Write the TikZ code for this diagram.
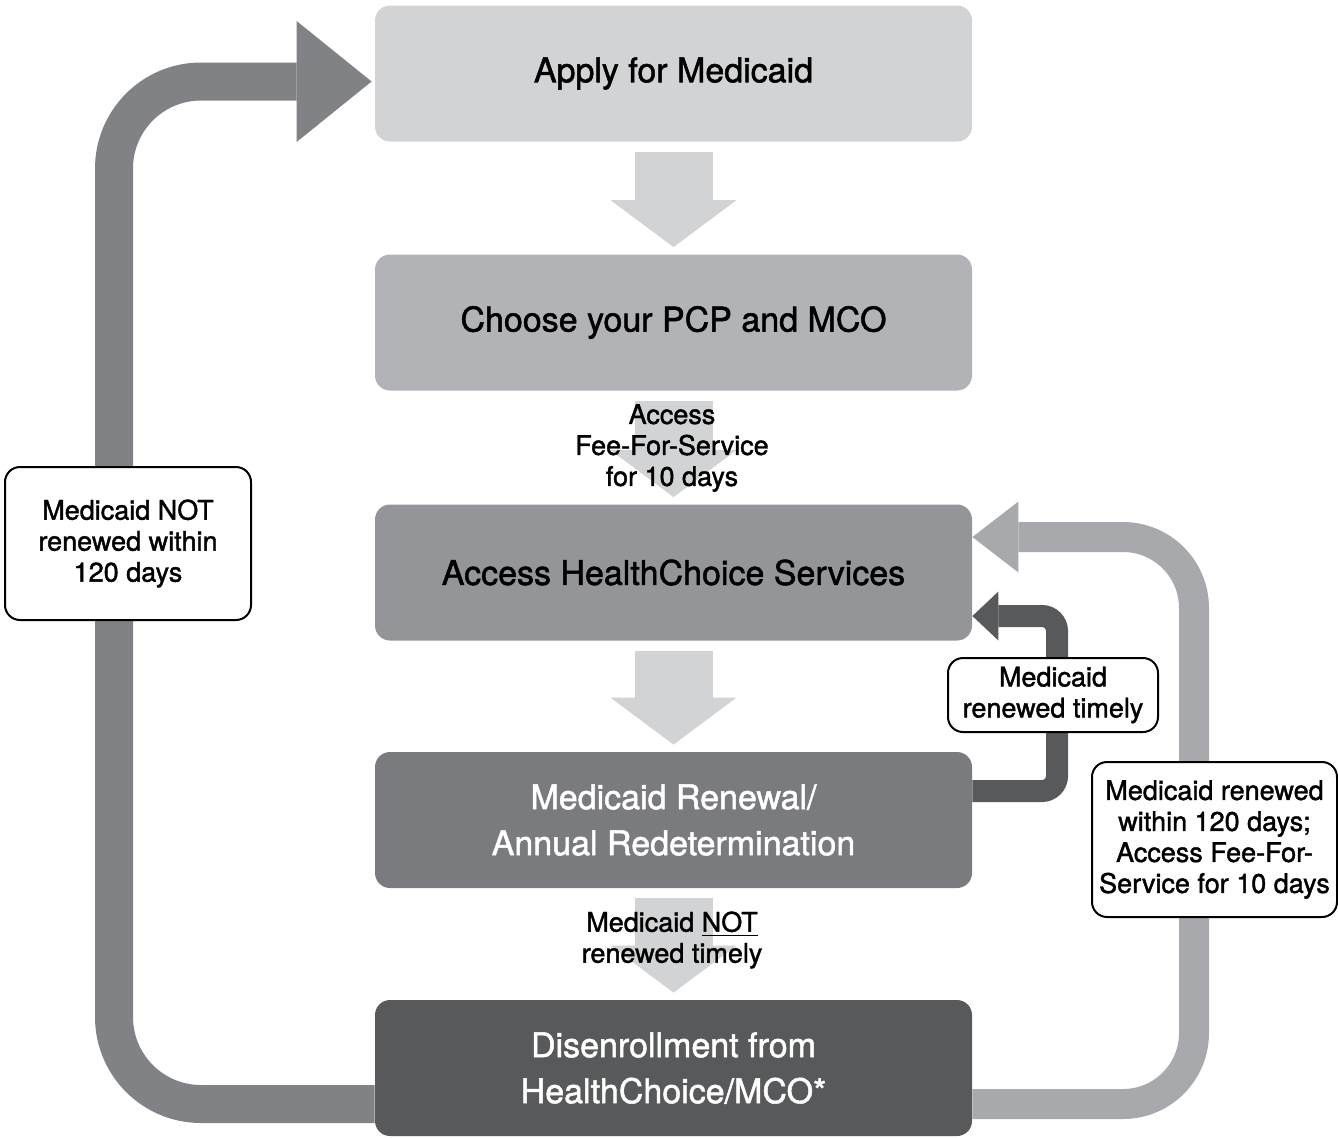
\documentclass[tikz,border=0pt]{standalone}
\usepackage{fontspec}
\setmainfont{TeX Gyre Heros}[FakeBold=1.5]
\usetikzlibrary{arrows.meta}
\definecolor{grayA}{HTML}{D1D3D4}
\definecolor{grayB}{HTML}{B1B3B6}
\definecolor{grayC}{HTML}{939598}
\definecolor{grayD}{HTML}{7A7B7E}
\definecolor{grayE}{HTML}{58595B}
\definecolor{grayL}{HTML}{808285}
\definecolor{grayR}{HTML}{A7A9AC}
\newcommand{\bw}{298.5pt}
\newcommand{\bh}{68pt}

\begin{document}
\begin{tikzpicture}[x=0.5pt, y=-0.5pt,
    box/.style={rectangle, minimum width=\bw, minimum height=\bh, rounded corners=7.5pt, inner sep=0pt, align=center, font=\fontsize{17}{23}\selectfont},
    lbl/.style={draw, line width=1pt, fill=white, rounded corners=7.5pt, inner sep=0pt, align=center, font=\fontsize{13.5}{15.5}\selectfont},
    txt/.style={align=center, font=\fontsize{13.5}{15.5}\selectfont},
    dnarrow/.style={draw=grayA, line width=39pt, shorten <=5pt, shorten >=3.5pt, -{Triangle[length=23.5pt, width=63pt, line width=0pt]}},
    loopleft/.style={draw=grayL, line width=19pt, rounded corners=43.5pt, -{Triangle[length=37.5pt, width=60.5pt, line width=0pt]}},
    loopright/.style={draw=grayR, line width=15pt, rounded corners=35.5pt, -{Triangle[length=23pt, width=35.5pt, line width=0pt]}},
    loopsmall/.style={draw=grayE, line width=11pt, rounded corners=7.5pt, -{Triangle[length=13pt, width=24.5pt, line width=0pt]}}]
    \useasboundingbox (0,0) rectangle (1338,1137);

    % Steps
    \node[box, fill=grayA] (box-1) at (673.5,73.5) {Apply for Medicaid};
    \node[box, fill=grayB] (box-2) at (673.5,322.5) {Choose your PCP and MCO};
    \node[box, fill=grayC] (box-3) at (673.5,572.5) {Access HealthChoice Services};
    \node[box, fill=grayD, text=white] (box-4) at (673.5,820) {Medicaid Renewal/\\Annual Redetermination};
    \node[box, fill=grayE, text=white] (box-5) at (673.5,1068) {Disenrollment from\\HealthChoice/MCO*};

    % Down arrows
    \draw[dnarrow] (box-1.south) -- (box-2.north);
    \draw[dnarrow] (box-2.south) -- (box-3.north);
    \draw[dnarrow] (box-3.south) -- (box-4.north);
    \draw[dnarrow] (box-4.south) -- (box-5.north);

    % Loops back
    \draw[loopleft] ([yshift=-18pt]box-5.west) -| (114,600) |- ([xshift=-1.5pt,yshift=-4pt]box-1.west);
    \draw[loopright] ([yshift=-18pt]box-5.east) -| (1194,700) |- ([yshift=17.75pt]box-3.east);
    \draw[loopsmall] ([yshift=14.5pt]box-4.east) -| (1057,700) |- ([yshift=-21.75pt]box-3.east);

    % Labels
    \node[txt] (txt-1) at (672,448) {Access\\Fee-For-Service\\for 10 days};
    \node[txt] (txt-2) at (672,940) {Medicaid \underline{NOT}\\renewed timely};
    \node[lbl, minimum width=123pt, minimum height=76.5pt] (lbl-1) at (128,543.5) {Medicaid NOT\\renewed within\\120 days};
    \node[lbl, minimum width=105pt, minimum height=37pt] (lbl-2) at (1053,695) {Medicaid\\renewed timely};
    \node[lbl, minimum width=122.5pt, minimum height=77.5pt] (lbl-3) at (1214.5,839.5) {Medicaid renewed\\within 120 days;\\Access Fee-For-\\Service for 10 days};

\end{tikzpicture}
\end{document}
